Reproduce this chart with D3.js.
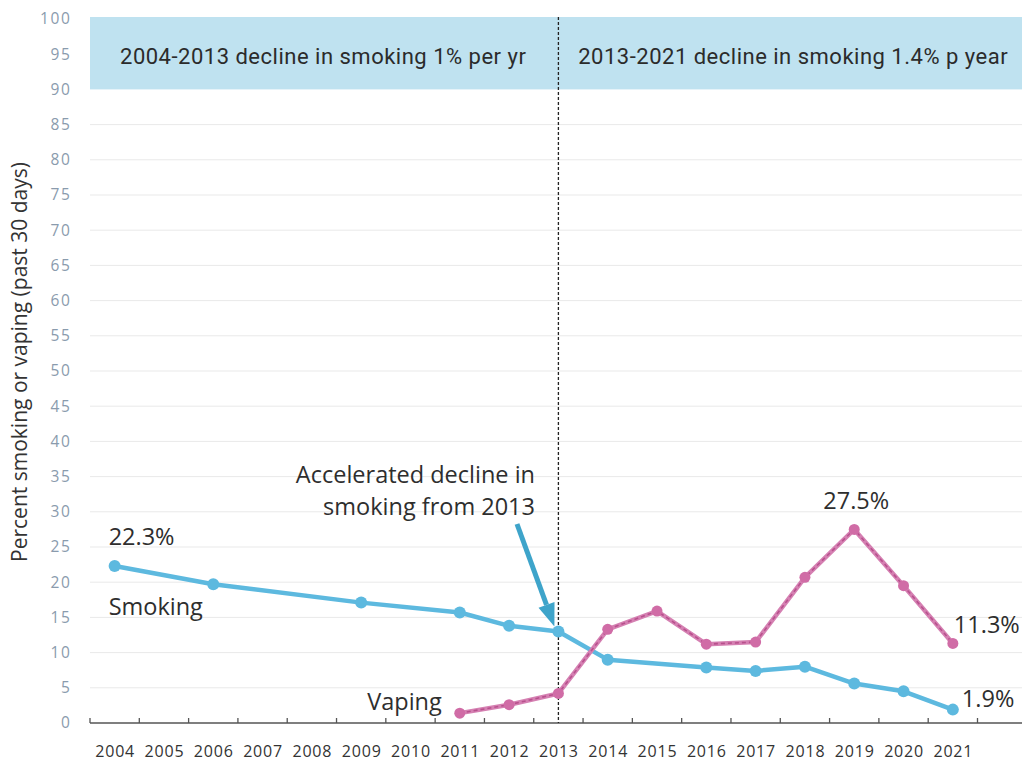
<!DOCTYPE html>
<html>
<head>
<meta charset="utf-8">
<script src="https://cdn.jsdelivr.net/npm/d3@7"></script>
<style>
  html, body { margin: 0; padding: 0; background: #ffffff; }
  svg { display: block; }
</style>
</head>
<body>
<svg id="chart" width="1022" height="761"></svg>
<script>
// Years on the x axis
const years = [2004, 2005, 2006, 2007, 2008, 2009, 2010, 2011, 2012, 2013,
               2014, 2015, 2016, 2017, 2018, 2019, 2020, 2021];

// Smoking prevalence (% past 30 days)
const smokingYears  = [2004, 2006, 2009, 2011, 2012, 2013, 2014, 2016, 2017, 2018, 2019, 2020, 2021];
const smokingValues = [22.3, 19.7, 17.1, 15.7, 13.8, 13.0, 9.0, 7.9, 7.4, 8.0, 5.6, 4.5, 1.9];

// Vaping prevalence (% past 30 days)
const vapingYears  = [2011, 2012, 2013, 2014, 2015, 2016, 2017, 2018, 2019, 2020, 2021];
const vapingValues = [1.4, 2.6, 4.2, 13.3, 15.9, 11.2, 11.5, 20.7, 27.5, 19.5, 11.3];

// Y ticks
const yTicks = [0, 5, 10, 15, 20, 25, 30, 35, 40, 45, 50, 55, 60, 65, 70, 75, 80, 85, 90, 95, 100];

// Period banners
const periodLabels = ["2004-2013 decline in smoking 1% per yr", "2013-2021 decline in smoking 1.4% p year"];
const breakYear = 2013;
const bannerRange = [90, 100];

const svg = d3.select("#chart");
const W = 1022;

const x = d3.scaleBand().domain(years).range([90, 977.5]).padding(0);
const y = d3.scaleLinear().domain([0, 100]).range([723, 19]);
const cx = yr => x(yr) + x.bandwidth() / 2;

const textFont = "'Open Sans', sans-serif";

// Horizontal grid
svg.append("g").selectAll("line")
  .data(yTicks.filter(t => t > 0 && t < bannerRange[0]))
  .join("line")
  .attr("x1", x.range()[0]).attr("x2", W)
  .attr("y1", d => y(d)).attr("y2", d => y(d))
  .attr("stroke", "#e9e9e9").attr("stroke-width", 1);

// Banner band
const xBreak = cx(breakYear);
svg.append("rect")
  .attr("x", x.range()[0]).attr("y", y(bannerRange[1]) - 2)
  .attr("width", W - x.range()[0])
  .attr("height", y(bannerRange[0]) - y(bannerRange[1]) + 2)
  .attr("fill", "#bfe2f0");

svg.append("g").selectAll("text")
  .data(periodLabels)
  .join("text")
  .attr("x", (d, i) => i === 0 ? (x.range()[0] + xBreak) / 2 - 1 : (xBreak + W) / 2 + 3)
  .attr("y", 64)
  .attr("text-anchor", "middle")
  .attr("font-family", "Roboto, sans-serif")
  .attr("font-size", 22)
  .attr("letter-spacing", 0.5)
  .attr("fill", "#2b2b2b")
  .text(d => d);

// Y axis labels
const yAxis = d3.axisLeft(y).tickValues(yTicks).tickSize(0).tickPadding(0);
const yg = svg.append("g").attr("transform", "translate(71.5,0)").call(yAxis);
yg.select(".domain").remove();
yg.selectAll("text")
  .attr("font-family", textFont)
  .attr("font-size", 15.5)
  .attr("letter-spacing", 1.6)
  .attr("fill", "#8a9bad");

// Y axis title
svg.append("text")
  .attr("transform", "translate(27,362) rotate(-90)")
  .attr("text-anchor", "middle")
  .attr("font-family", textFont)
  .attr("font-size", 21)
  .attr("fill", "#333")
  .text("Percent smoking or vaping (past 30 days)");

// X axis
const xg = svg.append("g").attr("transform", `translate(0,${y(0)})`);
xg.append("line")
  .attr("x1", x.range()[0]).attr("x2", W)
  .attr("stroke", "#555").attr("stroke-width", 1.3);
xg.selectAll("line.tick")
  .data(years.concat([null]))
  .join("line")
  .attr("class", "tick")
  .attr("x1", (d, i) => x.range()[0] + i * x.bandwidth())
  .attr("x2", (d, i) => x.range()[0] + i * x.bandwidth())
  .attr("y1", 0).attr("y2", -5)
  .attr("stroke", "#555").attr("stroke-width", 1.3);
xg.selectAll("text")
  .data(years)
  .join("text")
  .attr("x", d => cx(d) + 0.5)
  .attr("y", 34)
  .attr("text-anchor", "middle")
  .attr("font-family", textFont)
  .attr("font-size", 16)
  .attr("letter-spacing", 0.8)
  .attr("fill", "#333")
  .text(d => d);

// Break line at 2013
svg.append("line")
  .attr("x1", xBreak).attr("x2", xBreak)
  .attr("y1", y(bannerRange[1]) - 2).attr("y2", y(0))
  .attr("stroke", "#222").attr("stroke-width", 1.3)
  .attr("stroke-dasharray", "3,2");

const line = d3.line().x(d => cx(d[0])).y(d => y(d[1]));
const smoking = smokingYears.map((yr, i) => [yr, smokingValues[i]]);
const vaping = vapingYears.map((yr, i) => [yr, vapingValues[i]]);

// Smoking series
svg.append("path").datum(smoking)
  .attr("d", line).attr("fill", "none")
  .attr("stroke", "#5db9df").attr("stroke-width", 4.5)
  .attr("stroke-linejoin", "round");
svg.append("g").selectAll("circle").data(smoking).join("circle")
  .attr("cx", d => cx(d[0])).attr("cy", d => y(d[1]))
  .attr("r", 6).attr("fill", "#5db9df");

// Vaping series
svg.append("path").datum(vaping)
  .attr("d", line).attr("fill", "none")
  .attr("stroke", "#d580b2").attr("stroke-width", 4.5)
  .attr("stroke-linejoin", "round");
svg.append("path").datum(vaping)
  .attr("d", line).attr("fill", "none")
  .attr("stroke", "#b8508d").attr("stroke-width", 1.6)
  .attr("stroke-dasharray", "4,3");
svg.append("g").selectAll("circle").data(vaping).join("circle")
  .attr("cx", d => cx(d[0])).attr("cy", d => y(d[1]))
  .attr("r", 5.5).attr("fill", "#d06ca6");

// Annotations
const annot = svg.append("g")
  .attr("font-family", textFont)
  .attr("font-size", 23.5)
  .attr("fill", "#2e2e2e");

const label = (txt, xPos, yPos, anchor = "start") =>
  annot.append("text").attr("x", xPos).attr("y", yPos)
    .attr("text-anchor", anchor).text(txt);

label(smokingValues[0] + "%", cx(2004) - 6, 545);
label("Smoking", cx(2004) - 6, 615);
label("Vaping", cx(2011) - 18, 710, "end");
label(vapingValues[8] + "%", cx(2019) + 2, 509, "middle");
label(vapingValues[10] + "%", cx(2021) + 1, 633);
label(smokingValues[12] + "%", cx(2021) + 9, 707);
label("Accelerated decline in", 535, 483, "end");
label("smoking from 2013", 535, 515, "end");

// Arrow pointing at the 2013 smoking point
const arrowStart = [517, 524];
const tip = [cx(2013) - 4, y(smokingValues[5]) - 5];
const ang = Math.atan2(tip[1] - arrowStart[1], tip[0] - arrowStart[0]);
const headLen = 23, headHalf = 8.5;
const base = [tip[0] - headLen * Math.cos(ang), tip[1] - headLen * Math.sin(ang)];
const nx = -Math.sin(ang), ny = Math.cos(ang);
svg.append("line")
  .attr("x1", arrowStart[0]).attr("y1", arrowStart[1])
  .attr("x2", base[0]).attr("y2", base[1])
  .attr("stroke", "#3ea4ca").attr("stroke-width", 5);
svg.append("path")
  .attr("d", `M${tip[0]},${tip[1]}L${base[0] + nx * headHalf},${base[1] + ny * headHalf}L${base[0] - nx * headHalf},${base[1] - ny * headHalf}Z`)
  .attr("fill", "#3ea4ca");
</script>
</body>
</html>
